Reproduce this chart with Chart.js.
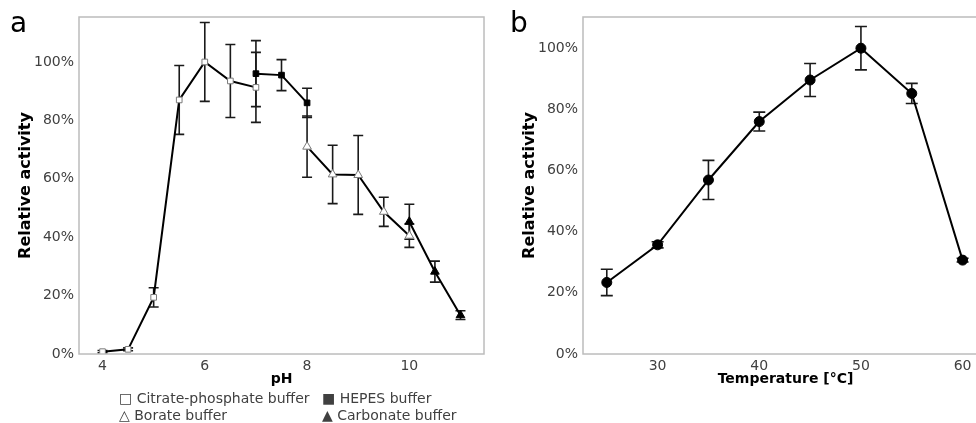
<!DOCTYPE html>
<html>
<head>
<meta charset="utf-8">
<script src="https://cdn.jsdelivr.net/npm/chart.js@4"></script>
<style>
  html, body { margin: 0; padding: 0; background: #fff; overflow: hidden; width: 976px; height: 423px; }
  #wrap { position: relative; width: 976px; height: 423px; font-family: "DejaVu Sans", sans-serif; color: #404040; }
  canvas { position: absolute; top: 0; }
  .panel { position: absolute; font-size: 28px; color: #000; line-height: 1; }
  .legend { position: absolute; left: 119px; top: 390px; font-size: 14px; line-height: 17px; }
  .legend span { position: absolute; white-space: nowrap; }
</style>
</head>
<body>
<div id="wrap">
  <canvas id="chartA" width="500" height="423" style="left:0"></canvas>
  <canvas id="chartB" width="500" height="423" style="left:500px"></canvas>
  <div class="panel" style="left:10px; top:9px">a</div>
  <div class="panel" style="left:510px; top:9px">b</div>
  <div class="legend">
    <span style="left:0; top:0">□ Citrate-phosphate buffer</span>
    <span style="left:203px; top:0">■ HEPES buffer</span>
    <span style="left:0; top:17px">△ Borate buffer</span>
    <span style="left:203px; top:17px">▲ Carbonate buffer</span>
  </div>
</div>
<script>
// panel a: pH profile
const phCitrate = [4, 4.5, 5, 5.5, 6, 6.5, 7]
const actCitrate = [0.008, 0.016, 0.194, 0.87, 1.0, 0.935, 0.913]
const errCitrate = [0.004, 0.005, 0.033, 0.118, 0.135, 0.125, 0.12]

const phHepes = [7, 7.5, 8]
const actHepes = [0.96, 0.955, 0.86]
const errHepes = [0.113, 0.053, 0.05]

const phBorate = [8, 8.5, 9, 9.5, 10]
const actBorate = [0.71, 0.615, 0.613, 0.487, 0.405]
const errBorate = [0.105, 0.10, 0.135, 0.05, 0.04]

const phCarbonate = [10, 10.5, 11]
const actCarbonate = [0.453, 0.282, 0.133]
const errCarbonate = [0.06, 0.036, 0.015]

const phTicks = [4, 6, 8, 10]

// panel b: temperature profile
const temps = [25, 30, 35, 40, 45, 50, 55, 60]
const actTemp = [0.234, 0.357, 0.569, 0.76, 0.896, 1.0, 0.852, 0.307]
const errTemp = [0.043, 0.01, 0.064, 0.031, 0.054, 0.071, 0.033, 0.006]
const tempTicks = [30, 40, 50, 60]

const pctTicks = [0, 0.2, 0.4, 0.6, 0.8, 1.0]

const FONT = "DejaVu Sans"
const TXT = "#404040"

const toPoints = (xs, ys) => xs.map((x, i) => ({ x: x, y: ys[i] }))

// error bars + frame around the plot area
const errorBars = {
    id: "errorBars",
    beforeDatasetsDraw(chart, args, opts) {
        const ctx = chart.ctx
        const yScale = chart.scales.y
        ctx.save()
        ctx.strokeStyle = "#1a1a1a"
        ctx.lineWidth = 1.6
        chart.data.datasets.forEach((ds, i) => {
            const meta = chart.getDatasetMeta(i)
            meta.data.forEach((pt, j) => {
                const e = ds.errors[j]
                const top = yScale.getPixelForValue(ds.data[j].y + e)
                const bot = yScale.getPixelForValue(ds.data[j].y - e)
                const w = opts.cap
                ctx.beginPath()
                ctx.moveTo(pt.x, top); ctx.lineTo(pt.x, bot)
                ctx.moveTo(pt.x - w, top); ctx.lineTo(pt.x + w, top)
                ctx.moveTo(pt.x - w, bot); ctx.lineTo(pt.x + w, bot)
                ctx.stroke()
            })
        })
        ctx.restore()
    },
    afterDraw(chart) {
        const a = chart.chartArea
        const ctx = chart.ctx
        ctx.save()
        ctx.strokeStyle = "#bcbcbc"
        ctx.lineWidth = 1.5
        ctx.strokeRect(a.left, a.top, a.right - a.left, a.bottom - a.top)
        ctx.restore()
    }
}

const makeOptions = (cfg) => ({
    responsive: false,
    animation: false,
    layout: { padding: { top: 17, right: cfg.padRight, bottom: 31, left: 0 } },
    plugins: {
        legend: { display: false },
        tooltip: { enabled: false },
        errorBars: { cap: cfg.cap }
    },
    scales: {
        x: {
            type: "linear",
            min: cfg.xMin,
            max: cfg.xMax,
            grid: { display: false, drawTicks: false, tickLength: 0 },
            border: { display: false },
            afterBuildTicks: (s) => { s.ticks = cfg.xTicks.map(v => ({ value: v })) },
            afterFit: (s) => { s.height = 38 },
            ticks: { font: { family: FONT, size: 14 }, color: TXT, padding: 4, maxRotation: 0 },
            title: {
                display: true, text: cfg.xTitle, color: "#000",
                font: { family: FONT, size: 14, weight: "bold" }, padding: { top: 0, bottom: 4 }
            }
        },
        y: {
            min: 0,
            max: cfg.yMax,
            grid: { display: false, drawTicks: false, tickLength: 0 },
            border: { display: false },
            afterBuildTicks: (s) => { s.ticks = pctTicks.map(v => ({ value: v })) },
            afterFit: (s) => { s.width = cfg.yWidth },
            ticks: {
                font: { family: FONT, size: 14 }, color: TXT, padding: 5,
                callback: (v) => Math.round(v * 100) + "%"
            },
            title: {
                display: true, text: "Relative activity", color: "#000",
                font: { family: FONT, size: 16, weight: "bold" }, padding: { top: cfg.titlePad, bottom: 0 }
            }
        }
    }
})

const series = (xs, ys, errs, style, filled, radius) => ({
    data: toPoints(xs, ys),
    errors: errs,
    showLine: true,
    borderColor: "#000",
    borderWidth: 2,
    pointStyle: style,
    pointRadius: radius,
    pointBorderWidth: 1,
    pointBorderColor: filled ? "#000" : "#7a7a7a",
    pointBackgroundColor: filled ? "#000" : "#fff"
})

new Chart(document.getElementById("chartA").getContext("2d"), {
    type: "line",
    data: {
        datasets: [
            series(phCitrate, actCitrate, errCitrate, "rect", false, 4),
            series(phHepes, actHepes, errHepes, "rect", true, 4),
            series(phBorate, actBorate, errBorate, "triangle", false, 5),
            series(phCarbonate, actCarbonate, errCarbonate, "triangle", true, 5)
        ]
    },
    options: makeOptions({
        padRight: 16, cap: 5, xMin: 3.54, xMax: 11.46, xTicks: phTicks, xTitle: "pH",
        yMax: 1.154, yWidth: 79, titlePad: 16
    }),
    plugins: [errorBars]
})

new Chart(document.getElementById("chartB").getContext("2d"), {
    type: "line",
    data: {
        datasets: [
            series(temps, actTemp, errTemp, "circle", true, 5)
        ]
    },
    options: makeOptions({
        padRight: 12, cap: 6, xMin: 22.66, xMax: 62.5, xTicks: tempTicks, xTitle: "Temperature [°C]",
        yMax: 1.102, yWidth: 83, titlePad: 20
    }),
    plugins: [errorBars]
})
</script>
</body>
</html>
